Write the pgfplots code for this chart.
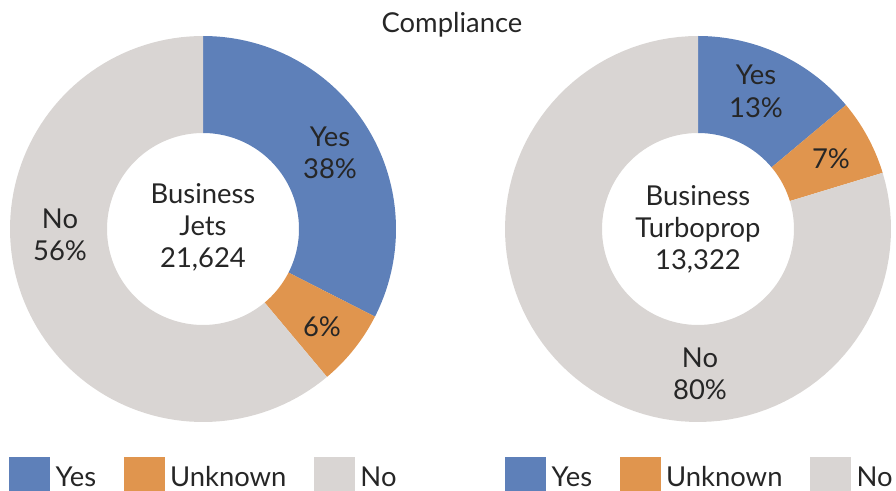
\documentclass[border=0pt]{standalone}
\usepackage{fontspec}
\setmainfont{Lato}
\usepackage{pgfplots}
\usepackage{pgfplotstable}
\pgfplotsset{compat=1.18}
\definecolor{cYes}{RGB}{94,128,185}
\definecolor{cUnk}{RGB}{224,149,78}
\definecolor{cNo}{RGB}{217,213,211}
\definecolor{txt}{RGB}{38,38,38}
\newcommand{\lab}{\fontsize{27.5}{31}\selectfont}
\def\Ro{193}
\def\Ri{96}
\newcommand{\donutseg}[3]{%
 \addplot[fill=#1, draw=none, forget plot, domain=0:2, samples=201, variable=\t]
 ({ifthenelse(\t<=1.005, \Ro*cos((#2)+((#3)-(#2))*\t), \Ri*cos((#3)+((#2)-(#3))*max(\t-1.01,0)/0.99))},
  {ifthenelse(\t<=1.005, \Ro*sin((#2)+((#3)-(#2))*\t), \Ri*sin((#3)+((#2)-(#3))*max(\t-1.01,0)/0.99))});
}
\pgfplotstableread{
cat pct
Yes 32.5
Unknown 6.4
No 61.1
}\jets
\pgfplotstableread{
cat pct
Yes 13.9
Unknown 6.4
No 79.7
}\turbo
\pgfplotstablegetelem{0}{pct}\of\jets \let\jY\pgfplotsretval
\pgfplotstablegetelem{1}{pct}\of\jets \let\jU\pgfplotsretval
\pgfplotstablegetelem{2}{pct}\of\jets \let\jN\pgfplotsretval
\pgfplotstablegetelem{0}{pct}\of\turbo \let\tY\pgfplotsretval
\pgfplotstablegetelem{1}{pct}\of\turbo \let\tU\pgfplotsretval
\pgfplotstablegetelem{2}{pct}\of\turbo \let\tN\pgfplotsretval
\pgfmathsetmacro{\jA}{90}
\pgfmathsetmacro{\jB}{\jA-3.6*\jY}
\pgfmathsetmacro{\jC}{\jB-3.6*\jU}
\pgfmathsetmacro{\jD}{\jC-3.6*\jN}
\pgfmathsetmacro{\tA}{90}
\pgfmathsetmacro{\tB}{\tA-3.6*\tY}
\pgfmathsetmacro{\tC}{\tB-3.6*\tU}
\pgfmathsetmacro{\tD}{\tC-3.6*\tN}
\pgfplotsset{
  donut/.style={hide axis, scale only axis, width=400bp, height=400bp,
    xmin=-200, xmax=200, ymin=-200, ymax=200, clip=false,
    legend columns=3,
    legend image code/.code={\fill[##1, draw=none] (0bp,-20.5bp) rectangle (41bp,20.5bp);},
    legend style={draw=none, fill=none, font=\lab, text=txt, inner sep=0pt,
      nodes={inner xsep=5.5bp, inner ysep=3bp},
      /tikz/every even column/.append style={column sep=22bp}}},
}
\begin{document}%
\begin{tikzpicture}
\path[use as bounding box, clip] (0,0) rectangle (896bp,491bp);
\node[anchor=base, text=txt, font=\lab] at (452bp,458bp) {Compliance};
% Business Jets
\begin{axis}[donut, at={(203bp,262bp)}, anchor=center,
  legend style={at={(axis cs:-194,-248.5)}, anchor=west}]
\donutseg{cYes}{\jA}{\jB}
\donutseg{cUnk}{\jB}{\jC}
\donutseg{cNo}{\jC}{\jD}
\addlegendimage{fill=cYes}\addlegendentry{Yes}
\addlegendimage{fill=cUnk}\addlegendentry{Unknown}
\addlegendimage{fill=cNo}\addlegendentry{No}
\begin{scope}[every node/.style={anchor=base, text=txt, font=\lab}]
\node at (axis cs:127,82) {Yes};
\node at (axis cs:127,50) {38\%};
\node at (axis cs:119,-108) {6\%};
\node at (axis cs:-143,0) {No};
\node at (axis cs:-143,-32) {56\%};
\node at (axis cs:0,25) {Business};
\node at (axis cs:0,-7) {Jets};
\node at (axis cs:0,-39) {21,624};
\end{scope}
\end{axis}
% Business Turboprop
\begin{axis}[donut, at={(698bp,262bp)}, anchor=center,
  legend style={at={(axis cs:-193,-248.5)}, anchor=west}]
\donutseg{cYes}{\tA}{\tB}
\donutseg{cUnk}{\tB}{\tC}
\donutseg{cNo}{\tC}{\tD}
\addlegendimage{fill=cYes}\addlegendentry{Yes}
\addlegendimage{fill=cUnk}\addlegendentry{Unknown}
\addlegendimage{fill=cNo}\addlegendentry{No}
\begin{scope}[every node/.style={anchor=base, text=txt, font=\lab}]
\node at (axis cs:58,144) {Yes};
\node at (axis cs:58,111) {13\%};
\node at (axis cs:133,60) {7\%};
\node at (axis cs:2,-139) {No};
\node at (axis cs:2,-171) {80\%};
\node at (axis cs:0,23) {Business};
\node at (axis cs:0,-9) {Turboprop};
\node at (axis cs:0,-41) {13,322};
\end{scope}
\end{axis}
\end{tikzpicture}%
\end{document}
